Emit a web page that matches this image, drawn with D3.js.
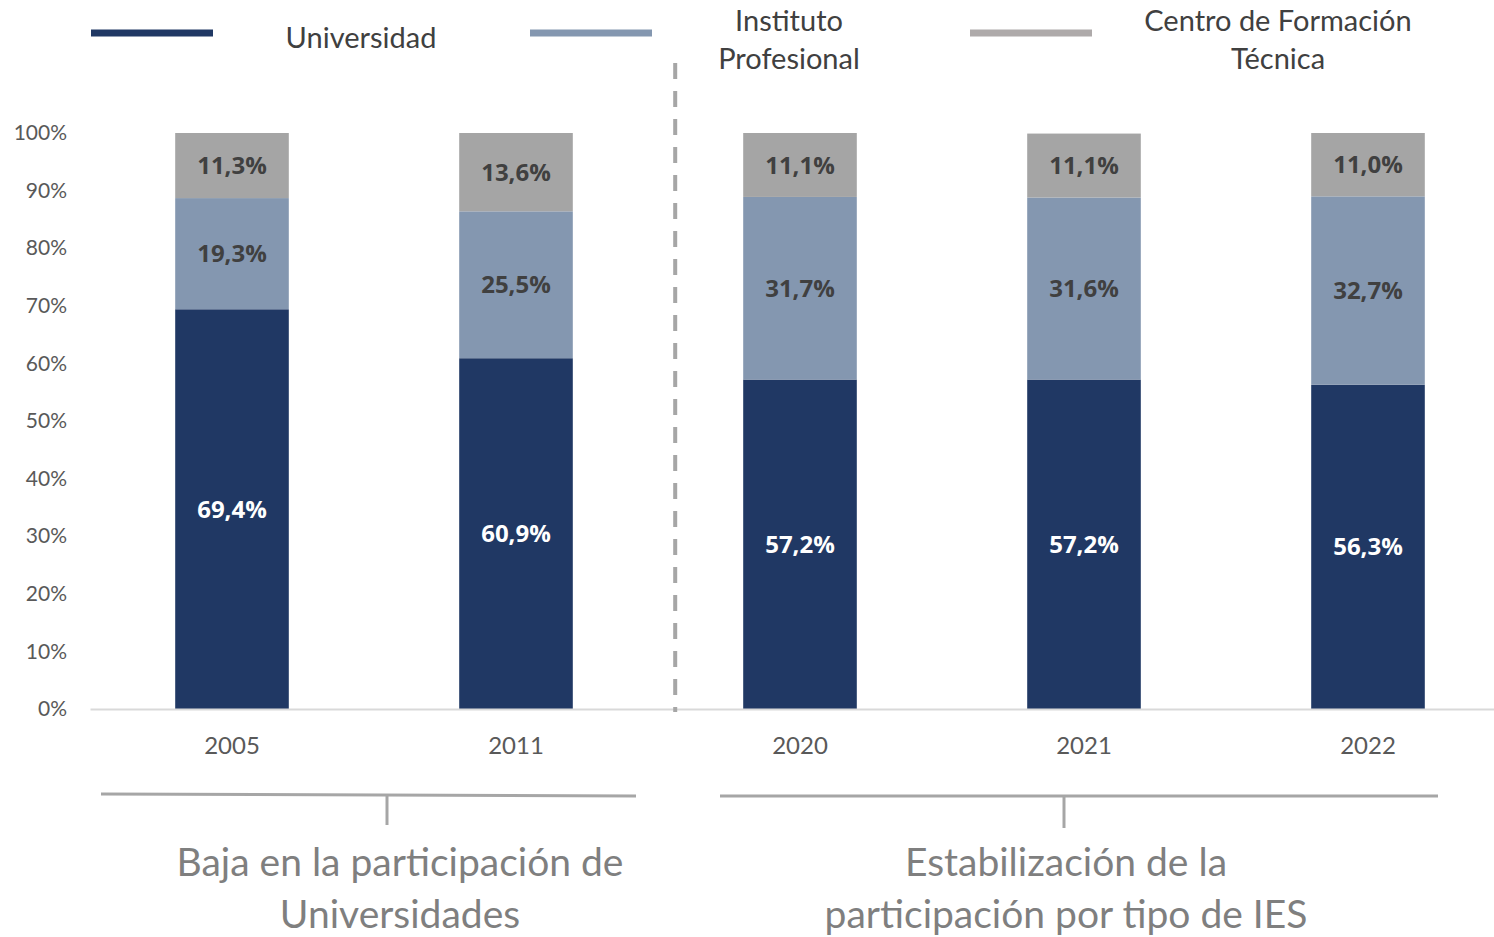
<!DOCTYPE html>
<html lang="es">
<head>
  <meta charset="UTF-8">
  <title>Participación por tipo de IES</title>
  <style>
    body { margin: 0; background: #fff; }
    svg { display: block; }
    text { font-family: Lato, "Open Sans", sans-serif; }
    .lbl { font-family: "Open Sans", sans-serif; font-weight: 700; }
  </style>
</head>
<body>
  <div id="chart"></div>

  <script src="https://d3js.org/d3.v7.min.js"></script>
  <script>
    const years = ["2005", "2011", "2020", "2021", "2022"];
    const universidad = [69.4, 60.9, 57.2, 57.2, 56.3];
    const instituto = [19.3, 25.5, 31.7, 31.6, 32.7];
    const cft = [11.3, 13.6, 11.1, 11.1, 11.0];
    const yTicks = [0, 10, 20, 30, 40, 50, 60, 70, 80, 90, 100];

    const keys = ["universidad", "instituto", "cft"];
    const names = [["Universidad"], ["Instituto", "Profesional"], ["Centro de Formación", "Técnica"]];
    const colors = ["#203864", "#8497b0", "#a5a5a5"];
    const legendColors = ["#203864", "#8497b0", "#aeaaaa"];
    const labelColors = ["#ffffff", "#404040", "#404040"];

    const width = 1494, height = 937;

    const data = years.map((y, i) => ({
      year: y, universidad: universidad[i], instituto: instituto[i], cft: cft[i]
    }));

    const svg = d3.select("#chart")
      .append("svg")
      .attr("width", width)
      .attr("height", height);

    const x = d3.scaleBand(years, [90, 1510])
      .paddingInner(0.6)
      .paddingOuter(0.3);

    const y = d3.scaleLinear([0, 100], [709, 133]);

    const color = d3.scaleOrdinal(keys, colors);

    // y axis, labels only
    svg.append("g")
      .attr("transform", "translate(69,0)")
      .call(d3.axisLeft(y).tickValues(yTicks).tickSize(0).tickPadding(2).tickFormat(d => d + "%"))
      .call(g => g.select(".domain").remove())
      .call(g => g.selectAll("text")
        .attr("fill", "#595959")
        .style("font-size", "21px")
        .style("font-family", "Lato, sans-serif"));

    const stacked = d3.stack().keys(keys)(data);

    const layers = svg.append("g")
      .selectAll("g")
      .data(stacked)
      .join("g")
      .attr("fill", d => color(d.key));

    layers.selectAll("rect")
      .data(d => d)
      .join("rect")
      .attr("x", d => x(d.data.year))
      .attr("y", d => y(d[1]))
      .attr("height", d => y(d[0]) - y(d[1]))
      .attr("width", x.bandwidth());

    // x axis
    svg.append("g")
      .attr("transform", "translate(0,709)")
      .call(d3.axisBottom(x).tickSize(0).tickPadding(28))
      .call(g => g.select(".domain").attr("stroke", "#d9d9d9").attr("stroke-width", 2))
      .call(g => g.selectAll("text")
        .attr("fill", "#595959")
        .style("font-size", "24px")
        .style("font-family", "Lato, sans-serif"));

    // segment labels
    stacked.forEach((layer, k) => {
      svg.append("g")
        .selectAll("text")
        .data(layer)
        .join("text")
        .attr("class", "lbl")
        .attr("x", d => x(d.data.year) + x.bandwidth() / 2)
        .attr("y", d => y((d[0] + d[1]) / 2))
        .attr("dy", "0.36em")
        .attr("text-anchor", "middle")
        .attr("fill", labelColors[k])
        .style("font-size", "24px")
        .text(d => d3.format(".1f")(d.data[layer.key]).replace(".", ",") + "%");
    });

    // dashed divider
    svg.append("line")
      .attr("x1", x("2020") - 68).attr("x2", x("2020") - 68)
      .attr("y1", 63).attr("y2", 712)
      .attr("stroke", "#a6a6a6")
      .attr("stroke-width", 4)
      .attr("stroke-dasharray", "16,12");

    // legend
    const legendX = [91, 530, 970];
    const legendText = [361, 789, 1278];
    const legend = svg.selectAll(".legend-group")
      .data(keys)
      .join("g")
      .attr("class", "legend-group");

    legend.append("line")
      .attr("x1", (d, i) => legendX[i])
      .attr("x2", (d, i) => legendX[i] + 122)
      .attr("y1", 33).attr("y2", 33)
      .attr("stroke", (d, i) => legendColors[i])
      .attr("stroke-width", 7);

    legend.append("text")
      .attr("text-anchor", "middle")
      .attr("fill", "#404040")
      .style("font-size", "29px")
      .selectAll("tspan")
      .data((d, i) => names[i].map(t => ({ t, i, n: names[i].length })))
      .join("tspan")
      .attr("x", d => legendText[d.i])
      .attr("y", (d, j) => d.n === 1 ? 48 : 31 + j * 38)
      .text(d => d.t);

    // brackets
    const brackets = [
      { x1: 101, x2: 636, ya: 794, yb: 796, tick: 387, tickEnd: 825, cx: 400, lines: ["Baja en la participación de", "Universidades"] },
      { x1: 720, x2: 1438, ya: 796, yb: 796, tick: 1064, tickEnd: 828, cx: 1066, lines: ["Estabilización de la", "participación por tipo de IES"] }
    ];

    brackets.forEach(b => {
      svg.append("line")
        .attr("x1", b.x1).attr("x2", b.x2)
        .attr("y1", b.ya).attr("y2", b.yb)
        .attr("stroke", "#a6a6a6").attr("stroke-width", 3);
      svg.append("line")
        .attr("x1", b.tick).attr("x2", b.tick)
        .attr("y1", (b.ya + b.yb) / 2).attr("y2", b.tickEnd)
        .attr("stroke", "#a6a6a6").attr("stroke-width", 3);
      svg.append("text")
        .attr("text-anchor", "middle")
        .attr("fill", "#7f7f7f")
        .style("font-size", "39px")
        .selectAll("tspan")
        .data(b.lines)
        .join("tspan")
        .attr("x", b.cx)
        .attr("y", (d, j) => 876 + j * 52)
        .text(d => d);
    });
  </script>
</body>
</html>
